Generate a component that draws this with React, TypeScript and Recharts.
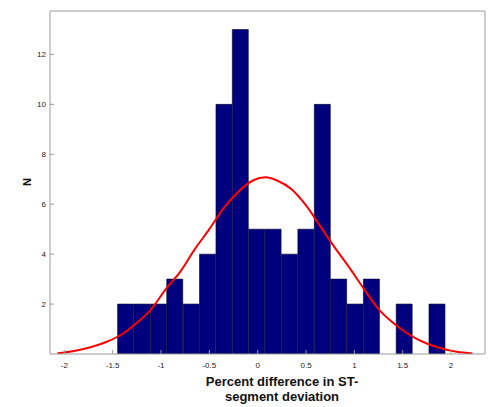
import React from "react";
import { ComposedChart, Bar, Line, XAxis, YAxis } from "recharts";

// histogram bins (centres) and counts
const binCenters = [
  -1.364, -1.195, -1.025, -0.856, -0.686, -0.517, -0.347, -0.178, -0.008, 0.161,
  0.331, 0.5, 0.67, 0.839, 1.009, 1.178, 1.348, 1.517, 1.687, 1.856,
];
const binCounts = [2, 2, 2, 3, 2, 4, 10, 13, 5, 5, 4, 5, 10, 3, 2, 3, 0, 2, 0, 2];

// fitted normal curve
const curveX = [
  -2.07, -1.9, -1.73, -1.56, -1.4, -1.25, -1.1, -0.95, -0.8, -0.65, -0.5, -0.35, -0.2, -0.05,
  0.08, 0.2, 0.35, 0.5, 0.65, 0.8, 0.95, 1.1, 1.25, 1.4, 1.55, 1.7, 1.85, 2.0, 2.22,
];
const curveY = [
  0.03, 0.12, 0.27, 0.49, 0.8, 1.25, 1.8, 2.6, 3.3, 4.2, 5.0, 5.85, 6.5, 6.95,
  7.08, 6.95, 6.6, 5.95, 5.1, 4.25, 3.45, 2.6, 1.8, 1.25, 0.82, 0.5, 0.28, 0.13, 0.02,
];

const xTicks = [-2, -1.5, -1, -0.5, 0, 0.5, 1, 1.5, 2];
const yTicks = [2, 4, 6, 8, 10, 12];
const xDomain: [number, number] = [-2.148, 2.351];
const yDomain: [number, number] = [0, 13.74];

const bins = binCenters.map((x, i) => ({ x, count: binCounts[i] }));
const curve = curveX.map((x, i) => ({ x, y: curveY[i] }));

const frame = "#9a9a9a";
const tickFont = { fontSize: 8, fill: "#222", fontFamily: "Liberation Sans, Arial, sans-serif" };

export default function App() {
  return (
    <div style={{ position: "absolute", left: 0, top: 0, background: "#fff" }}>
      <ComposedChart
        width={491}
        height={407}
        data={bins}
        margin={{ top: 10, right: 5, bottom: 33, left: 20 }}
        barCategoryGap={0}
        barGap={0}
      >
        <XAxis
          xAxisId="bins"
          dataKey="x"
          type="number"
          domain={xDomain}
          allowDataOverflow
          ticks={xTicks}
          interval={0}
          height={20}
          tickSize={-4}
          tickMargin={12}
          stroke={frame}
          tick={tickFont}
          label={{
            content: () => (
              <text
                fontFamily="Liberation Sans, Arial, sans-serif"
                fontWeight="bold"
                fontSize={13}
                fill="#111"
                textAnchor="middle"
              >
                <tspan x={282} y={386}>Percent difference in ST-</tspan>
                <tspan x={282} y={401}>segment deviation</tspan>
              </text>
            ),
          }}
        />
        <XAxis
          xAxisId="curve"
          dataKey="x"
          type="number"
          domain={xDomain}
          allowDataOverflow
          hide
        />
        <XAxis
          xAxisId="top"
          orientation="top"
          type="number"
          domain={xDomain}
          allowDataOverflow
          ticks={xTicks}
          interval={0}
          height={1}
          tick={false}
          tickSize={-4}
          stroke={frame}
        />
        <YAxis
          yAxisId="left"
          type="number"
          domain={yDomain}
          allowDataOverflow
          ticks={yTicks}
          interval={0}
          width={30}
          tickSize={-4}
          tickMargin={8}
          stroke={frame}
          tick={tickFont}
          label={{
            content: () => (
              <text
                x={27}
                y={182}
                transform="rotate(-90 27 182)"
                fontFamily="Liberation Sans, Arial, sans-serif"
                fontWeight="bold"
                fontSize={11}
                fill="#111"
                textAnchor="middle"
                dominantBaseline="central"
              >
                N
              </text>
            ),
          }}
        />
        <YAxis
          yAxisId="right"
          orientation="right"
          type="number"
          domain={yDomain}
          allowDataOverflow
          ticks={yTicks}
          interval={0}
          width={1}
          tick={false}
          tickSize={-4}
          stroke={frame}
        />
        <Bar
          xAxisId="bins"
          yAxisId="left"
          dataKey="count"
          fill="#00007f"
          stroke="#00002a"
          strokeWidth={0.6}
          isAnimationActive={false}
        />
        <Line
          xAxisId="curve"
          yAxisId="left"
          data={curve}
          dataKey="y"
          type="monotone"
          stroke="#ff0000"
          strokeWidth={2}
          dot={false}
          isAnimationActive={false}
        />
      </ComposedChart>
    </div>
  );
}
